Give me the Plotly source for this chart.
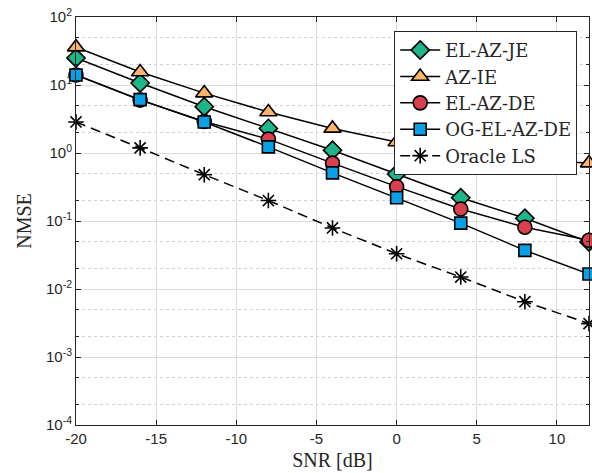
import plotly.graph_objects as go

snr = [-20, -16, -12, -8, -4, 0, 4, 8, 12]
el_az_je = [25, 10.7, 4.8, 2.3, 1.1, 0.49, 0.22, 0.11, 0.049]
az_ie = [36, 15.5, 7.6, 4.0, 2.3, 1.45, 1.0, 0.79, 0.71]
el_az_de = [14, 6.0, 2.9, 1.6, 0.71, 0.32, 0.15, 0.081, 0.052]
og_el_az_de = [14, 6.1, 2.86, 1.23, 0.51, 0.22, 0.093, 0.037, 0.0166]
oracle_ls = [2.86, 1.19, 0.48, 0.20, 0.079, 0.033, 0.015, 0.0065, 0.0031]

x_ticks = [-20, -15, -10, -5, 0, 5, 10]
x_ticktext = ["-20", "-15", "-10", "-5", "0", "5", "10"]
y_ticks = [1e-4, 1e-3, 1e-2, 1e-1, 1, 10, 100]
y_ticktext = ["10<sup>-4</sup>", "10<sup>-3</sup>", "10<sup>-2</sup>", "10<sup>-1</sup>",
              "10<sup>0</sup>", "10<sup>1</sup>", "10<sup>2</sup>"]

names = ["EL-AZ-JE", "AZ-IE", "EL-AZ-DE", "OG-EL-AZ-DE", "Oracle LS"]
series = [el_az_je, az_ie, el_az_de, og_el_az_de, oracle_ls]
colors = ["#1fb58a", "#fbb46a", "#d8404f", "#0aa0e6", "#000000"]
symbols = ["diamond", "triangle-up", "circle", "square", "asterisk"]
sizes = [14, 15, 14, 12, 13]
dashes = ["solid", "solid", "solid", "solid", "10px,6px"]

fig = go.Figure()
for n, s, c, sym, sz, d in zip(names, series, colors, symbols, sizes, dashes):
    fig.add_trace(go.Scatter(
        x=snr, y=s, name=n, mode="lines+markers",
        line=dict(color="black", width=1.5, dash=d),
        marker=dict(symbol=sym, size=sz, color=c,
                    line=dict(color="black", width=1.6)),
        cliponaxis=False,
    ))

axis_common = dict(
    showline=True, linecolor="#262626", linewidth=1, mirror="ticks",
    ticks="inside", ticklen=5, tickcolor="#262626",
    tickfont=dict(family="Liberation Sans, Arial", size=15, color="#262626"),
    gridcolor="#dcdcdc", gridwidth=1, zeroline=False,
)

fig.update_xaxes(
    range=[-20, 12], tickmode="array",
    tickvals=x_ticks, ticktext=x_ticktext,
    title=dict(text="SNR [dB]", font=dict(family="Liberation Serif, serif", size=20, color="#262626"), standoff=6),
    **axis_common,
)
fig.update_yaxes(
    type="log", range=[-4, 2], tickmode="array",
    tickvals=y_ticks, ticktext=y_ticktext,
    title=dict(text="NMSE", font=dict(family="Liberation Serif, serif", size=20, color="#262626"), standoff=8),
    minor=dict(ticks="inside", ticklen=3, tickcolor="#262626", showgrid=True,
               gridcolor="#d0d0d0", griddash="dot", gridwidth=1),
    **axis_common,
)

fig.update_layout(
    width=592, height=473,
    margin=dict(l=76, r=3, t=17, b=48),
    plot_bgcolor="white", paper_bgcolor="white",
    legend=dict(
        x=0.977, y=0.966, xanchor="right", yanchor="top",
        bgcolor="white", bordercolor="#262626", borderwidth=1,
        font=dict(family="DejaVu Serif, serif", size=18, color="#262626"),
        tracegroupgap=0, itemwidth=40,
    ),
    showlegend=True,
)

fig.write_html("out.html")
